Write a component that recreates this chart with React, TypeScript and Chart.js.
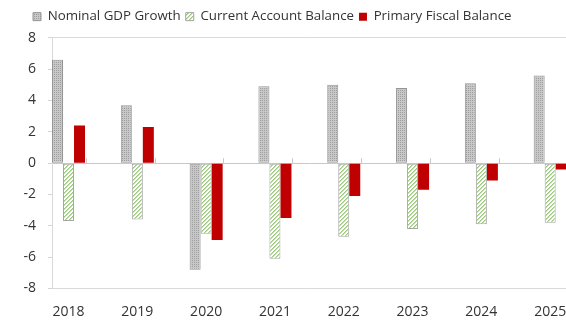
import React, { useEffect, useRef } from 'react';
import { Chart, registerables } from 'chart.js';

Chart.register(...registerables);

const years = ['2018', '2019', '2020', '2021', '2022', '2023', '2024', '2025'];
const nominalGdpGrowth = [6.6, 3.7, -6.8, 4.9, 5.0, 4.8, 5.1, 5.6];
const currentAccountBalance = [-3.7, -3.6, -4.5, -6.1, -4.7, -4.2, -3.9, -3.8];
const primaryFiscalBalance = [2.4, 2.3, -4.9, -3.5, -2.1, -1.7, -1.1, -0.4];
const yMin = -8;
const yMax = 8;
const yStep = 2;

const FONT = 'Open Sans, Noto Sans, sans-serif';
const TEXT = '#333333';

function makeGrayPattern(): CanvasPattern | string {
  const c = document.createElement('canvas');
  c.width = 2;
  c.height = 2;
  const g = c.getContext('2d');
  if (!g) return '#c0c0c0';
  g.fillStyle = '#c8c8c8';
  g.fillRect(0, 0, 2, 2);
  g.fillStyle = '#9e9e9e';
  g.fillRect(0, 0, 1, 1);
  return g.createPattern(c, 'repeat') || '#c0c0c0';
}

function makeStripePattern(): CanvasPattern | string {
  const c = document.createElement('canvas');
  c.width = 4;
  c.height = 4;
  const g = c.getContext('2d');
  if (!g) return '#c5e0b4';
  g.fillStyle = '#ffffff';
  g.fillRect(0, 0, 4, 4);
  for (let y = 0; y < 4; y++) {
    for (let x = 0; x < 4; x++) {
      const k = (x + y) % 4;
      if (k === 0) {
        g.fillStyle = '#9cc97e';
        g.fillRect(x, y, 1, 1);
      } else if (k === 1) {
        g.fillStyle = '#c4e0b0';
        g.fillRect(x, y, 1, 1);
      }
    }
  }
  return g.createPattern(c, 'repeat') || '#c5e0b4';
}

const zeroTicks = {
  id: 'zeroTicks',
  beforeDatasetsDraw(chart: any) {
    const xs = chart.scales.x;
    const ys = chart.scales.y;
    const y0 = ys.getPixelForValue(0);
    const ctx = chart.ctx;
    ctx.save();
    ctx.strokeStyle = '#c8c8c8';
    ctx.lineWidth = 1;
    years.forEach((_, i) => {
      const x = Math.round(xs.getPixelForValue(i + 0.25)) + 0.5;
      ctx.beginPath();
      ctx.moveTo(x, y0 - 5);
      ctx.lineTo(x, y0);
      ctx.stroke();
    });
    ctx.restore();
  },
};

const legendShift = {
  id: 'legendShift',
  afterLayout(chart: any) {
    const lg = chart.legend;
    if (!lg) return;
    lg.left += 28;
    lg.top -= 4.5;
    lg.bottom -= 4.5;
  },
};

export default function App() {
  const ref = useRef<HTMLCanvasElement | null>(null);

  useEffect(() => {
    if (!ref.current) return;
    const gray = makeGrayPattern();
    const stripes = makeStripePattern();
    const toXY = (vals: number[]) => vals.map((v, i) => ({ x: i, y: v }));

    const chart = new Chart(ref.current, {
      type: 'bar',
      data: {
        datasets: [
          {
            label: 'Nominal GDP Growth',
            data: toXY(nominalGdpGrowth),
            backgroundColor: gray as any,
            borderColor: '#959595',
            borderWidth: 1,
            borderSkipped: false,
          },
          {
            label: 'Current Account Balance',
            data: toXY(currentAccountBalance),
            backgroundColor: stripes as any,
            borderColor: '#a6a6a6',
            borderWidth: 1,
            borderSkipped: false,
          },
          {
            label: 'Primary Fiscal Balance',
            data: toXY(primaryFiscalBalance),
            backgroundColor: '#c00000',
            borderColor: '#c00000',
            borderWidth: 0,
          },
        ],
      },
      options: {
        responsive: false,
        animation: false,
        events: [],
        datasets: {
          bar: { categoryPercentage: 0.48, barPercentage: 1.0 },
        },
        layout: { padding: { left: 0, right: 0, top: 9.5, bottom: 0 } },
        plugins: {
          legend: {
            position: 'top',
            align: 'start',
            labels: {
              boxWidth: 8,
              boxHeight: 8,
              padding: 5,
              color: TEXT,
              font: { family: FONT, size: 13.3 },
            },
          },
          tooltip: { enabled: false },
        },
        scales: {
          x: {
            type: 'linear',
            min: -0.24,
            max: 7.23,
            offset: false,
            grid: { display: false },
            border: { display: false },
            ticks: {
              padding: 7,
              color: TEXT,
              font: { family: FONT, size: 14 },
              maxRotation: 0,
              autoSkip: false,
              callback: (v: any) => years[Math.round(Number(v))] ?? '',
            },
            afterBuildTicks: (s: any) => {
              s.ticks = years.map((_, i) => ({ value: i }));
            },
            afterFit: (s: any) => {
              s.height = 32.5;
              s.paddingLeft = 0;
              s.paddingRight = 0;
            },
          },
          y: {
            min: yMin,
            max: yMax,
            ticks: {
              stepSize: yStep,
              padding: 12,
              color: TEXT,
              font: { family: FONT, size: 14 },
            },
            grid: {
              drawTicks: true,
              tickLength: 4,
              tickColor: '#d4d4d4',
              color: (c: any) =>
                c.tick && c.tick.value === 0
                  ? '#c8c8c8'
                  : c.tick && Math.abs(c.tick.value) === 8
                  ? '#d9d9d9'
                  : 'rgba(0,0,0,0)',
            },
            border: { display: true, color: '#d9d9d9' },
            afterFit: (s: any) => {
              s.width = 52;
            },
          },
        },
      },
      plugins: [zeroTicks, legendShift],
    });
    return () => chart.destroy();
  }, []);

  return (
    <div style={{ position: 'fixed', left: 0, top: 0, width: 566, height: 321, overflow: 'hidden', background: '#fff' }}>
      <canvas ref={ref} width={566} height={321} style={{ display: 'block' }} />
    </div>
  );
}
